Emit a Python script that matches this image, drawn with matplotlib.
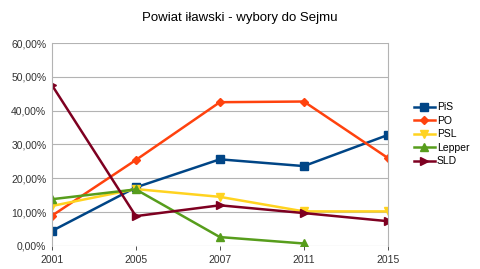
import matplotlib
matplotlib.use('Agg')
import matplotlib.pyplot as plt
from matplotlib.ticker import FuncFormatter

plt.rcParams['font.family'] = ['Liberation Sans', 'DejaVu Sans']

years = ['2001', '2005', '2007', '2011', '2015']
pis = [4.4, 17.3, 25.6, 23.6, 32.8]
po = [8.9, 25.4, 42.5, 42.7, 26.0]
psl = [11.8, 16.8, 14.5, 10.2, 10.2]
lepper = [13.8, 16.7, 2.6, 0.7]
sld = [47.6, 8.8, 12.0, 9.7, 7.3]

series = [
    ('PiS', pis, '#004586', 's', 6),
    ('PO', po, '#ff420e', 'D', 4.5),
    ('PSL', psl, '#ffd320', 'v', 6),
    ('Lepper', lepper, '#579d1c', '^', 6),
    ('SLD', sld, '#7e0021', '>', 6),
]

fig = plt.figure(figsize=(4.8, 2.69), dpi=100)
ax = fig.add_axes([0.108, 0.086, 0.7, 0.754])

x = list(range(len(years)))
for name, vals, color, marker, ms in series:
    ax.plot(x[:len(vals)], vals, color=color, marker=marker, markersize=ms,
            linewidth=1.8, label=name)

ax.set_xlim(0, len(years) - 1)
ax.set_ylim(0, 60)
ax.set_xticks(x)
ax.set_xticklabels(years)
ax.set_yticks(range(0, 61, 10))
ax.yaxis.set_major_formatter(FuncFormatter(lambda v, p: f'{v:.2f}%'.replace('.', ',')))
ax.tick_params(labelsize=7.5, colors='#333333', length=3, width=0.6)
ax.tick_params(axis='y', length=0, pad=4)
ax.grid(axis='y', color='#b3b3b3', linewidth=0.8)
ax.set_axisbelow(True)
for s in ['top', 'bottom']:
    ax.spines[s].set_visible(False)
for s in ['left', 'right']:
    ax.spines[s].set_color('#b3b3b3')
    ax.spines[s].set_linewidth(0.8)

fig.suptitle('Powiat iławski - wybory do Sejmu', fontsize=9.5, y=0.955, x=0.5)
ax.legend(loc='center left', bbox_to_anchor=(1.05, 0.55), frameon=False,
          fontsize=7.5, handlelength=2.0, handletextpad=0.2, labelspacing=0.33)

fig.savefig('out.png', dpi=100)
